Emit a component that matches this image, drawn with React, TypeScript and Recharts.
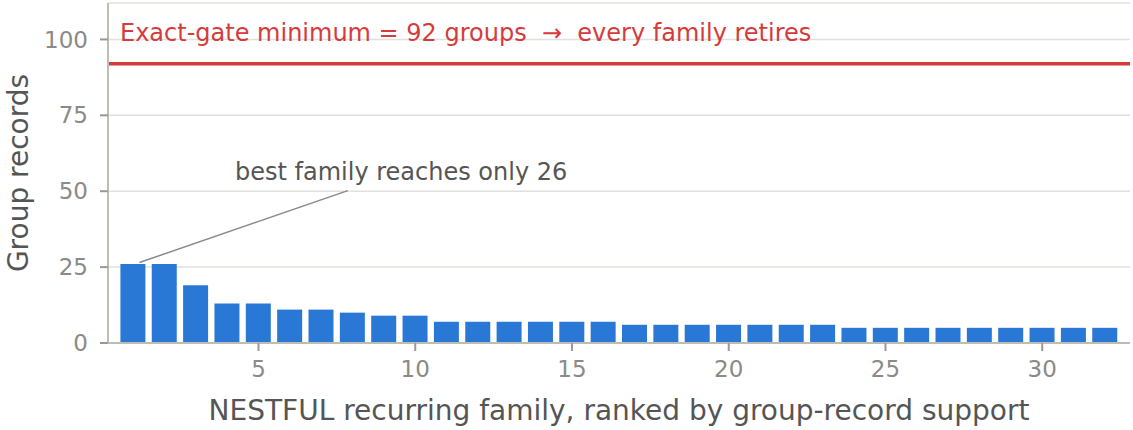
import { BarChart, Bar, XAxis, YAxis, CartesianGrid, ReferenceLine, ReferenceDot } from "recharts";

const RANKS = Array.from({ length: 32 }, (_, i) => i + 1);
const GROUP_RECORDS = [
  26, 26, 19, 13, 13, 11, 11, 10, 9, 9, 7, 7, 7, 7, 7, 7, 6, 6, 6, 6, 6, 6, 6, 5, 5, 5, 5, 5, 5, 5, 5, 5,
];
const X_TICKS = [5, 10, 15, 20, 25, 30];
const Y_TICKS = [0, 25, 50, 75, 100];
const GATE_MIN = 92;
const GATE_LABEL = "Exact-gate minimum = 92 groups  \u2192  every family retires";
const NOTE_LABEL = "best family reaches only 26";
const NOTE_FROM = { x: 1.2, y: 26.5 };
const NOTE_TO = { x: 7.85, y: 50.2 };
const NOTE_AT = { x: 9.55, y: 53.8 };

const data = RANKS.map((rank, i) => ({ rank, value: GROUP_RECORDS[i] }));

const FONT = "'DejaVu Sans', sans-serif";
const BLUE = "#2a78d6";
const RED = "#d63b3b";
const TICK_GRAY = "#8a8a86";
const AXIS_GRAY = "#bdbdb5";
const LABEL_GRAY = "#555555";

export default function App() {
  return (
    <div style={{ position: "absolute", top: 0, left: 0, fontFamily: FONT }}>
      <BarChart
        width={1133}
        height={430}
        data={data}
        margin={{ top: 3, right: 3, left: 0, bottom: 0 }}
      >
        <CartesianGrid vertical={false} stroke="#e0e0dc" strokeWidth={1.5} />
        <XAxis
          dataKey="rank"
          type="number"
          domain={[0.2, 32.8]}
          allowDataOverflow
          ticks={X_TICKS}
          height={87}
          tickSize={8}
          tickMargin={10}
          stroke={AXIS_GRAY}
          strokeWidth={2}
          tickLine={{ stroke: "#999", strokeWidth: 2 }}
          tick={{ fill: TICK_GRAY, fontSize: 23, fontFamily: FONT }}
          label={{
            value: "NESTFUL recurring family, ranked by group-record support",
            position: "insideBottom",
            offset: 10,
            fill: LABEL_GRAY,
            fontSize: 28,
            fontFamily: FONT,
          }}
        />
        <YAxis
          type="number"
          domain={[0, 112]}
          ticks={Y_TICKS}
          width={108}
          tickSize={8}
          tickMargin={12}
          stroke={AXIS_GRAY}
          strokeWidth={2}
          tickLine={{ stroke: "#999", strokeWidth: 2 }}
          tick={{ fill: TICK_GRAY, fontSize: 23, fontFamily: FONT }}
          label={{
            value: "Group records",
            angle: -90,
            position: "insideLeft",
            offset: 18,
            style: { textAnchor: "middle" },
            fill: LABEL_GRAY,
            fontSize: 28,
            fontFamily: FONT,
          }}
        />
        <Bar dataKey="value" fill={BLUE} barSize={25} isAnimationActive={false} />
        <ReferenceLine
          y={GATE_MIN}
          stroke={RED}
          strokeWidth={3.5}
          label={(props: any) => {
            const vb = props.viewBox;
            return (
              <text
                x={vb.x + 12}
                y={vb.y - 23}
                fill={RED}
                fontSize={24}
                fontFamily={FONT}
                style={{ whiteSpace: "pre" }}
              >
                {GATE_LABEL}
              </text>
            );
          }}
        />
        <ReferenceLine
          segment={[NOTE_FROM, NOTE_TO]}
          stroke="#8a8a86"
          strokeWidth={1.5}
          ifOverflow="visible"
        />
        <ReferenceDot
          x={NOTE_AT.x}
          y={NOTE_AT.y}
          r={0}
          fill="none"
          stroke="none"
          label={(props: any) => {
            const vb = props.viewBox;
            return (
              <text
                x={vb.x + vb.width / 2}
                y={vb.y + vb.height / 2}
                textAnchor="middle"
                fill={LABEL_GRAY}
                fontSize={24}
                fontFamily={FONT}
              >
                {NOTE_LABEL}
              </text>
            );
          }}
        />
      </BarChart>
    </div>
  );
}
